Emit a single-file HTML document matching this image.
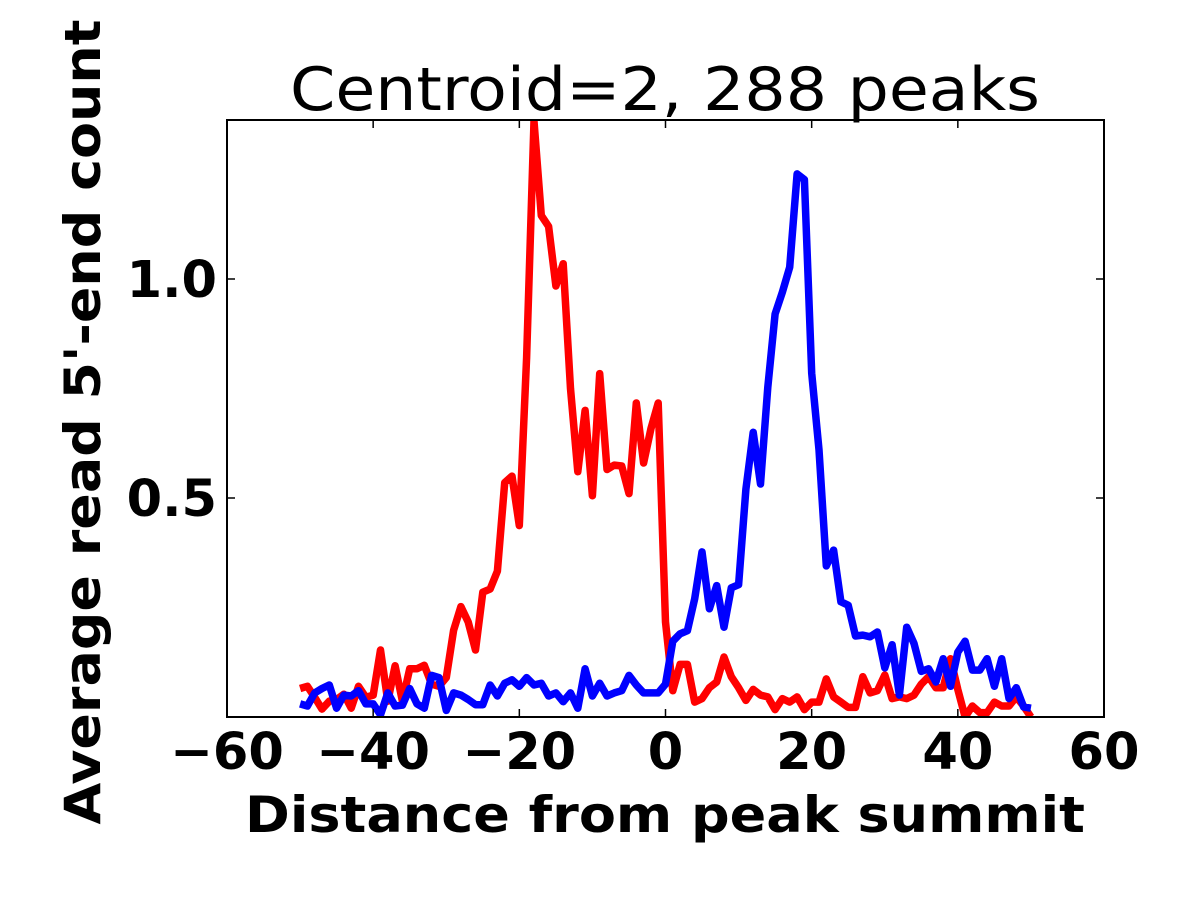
<!DOCTYPE html>
<html><head><meta charset="utf-8"><style>
html,body{margin:0;padding:0;background:#fff;}
svg{display:block;font-family:"DejaVu Sans","Liberation Sans",sans-serif;}
</style></head><body>
<svg id="chart" width="1200" height="900" viewBox="0 0 1200 900">
<defs><clipPath id="plotclip"><rect x="227" y="120" width="877" height="597"/></clipPath></defs>
<rect x="0" y="0" width="1200" height="900" fill="#fff"/>
<text x="665" y="110" font-size="60" text-anchor="middle" textLength="750" lengthAdjust="spacingAndGlyphs">Centroid=2, 288 peaks</text>
<g id="series" clip-path="url(#plotclip)"></g>
<rect x="227" y="120" width="877" height="597" fill="none" stroke="#000" stroke-width="2"/>
<g id="ticks"></g>
<text x="665" y="832" font-size="50" font-weight="bold" text-anchor="middle" textLength="840" lengthAdjust="spacingAndGlyphs">Distance from peak summit</text>
<text transform="translate(100,422) rotate(-90)" font-size="50" font-weight="bold" text-anchor="middle" textLength="805" lengthAdjust="spacingAndGlyphs">Average read 5'-end count</text>
</svg>
<script>
const positions = [];
for (let i = -50; i <= 50; i++) positions.push(i);
const redValues = [0.065,0.07,0.045,0.018,0.036,0.04,0.052,0.02,0.07,0.045,0.05,0.153,0.036,0.117,0.036,0.11,0.11,0.118,0.075,0.07,0.09,0.198,0.252,0.217,0.153,0.285,0.292,0.333,0.535,0.55,0.437,0.82,1.36,1.145,1.12,0.984,1.035,0.75,0.56,0.70,0.505,0.784,0.565,0.575,0.573,0.51,0.717,0.58,0.658,0.717,0.217,
0.06,0.12,0.12,0.034,0.042,0.067,0.08,0.137,0.092,0.067,0.038,0.063,0.05,0.046,0.017,0.042,0.034,0.046,0.017,0.034,0.034,0.087,0.046,0.034,0.022,0.022,0.092,0.055,0.06,0.096,0.042,0.046,0.042,0.05,0.075,0.092,0.067,0.067,0.133,0.063,0.0,0.025,0.01,0.01,0.034,0.025,0.025,0.046,0.025,0.0];
const blueValues = [0.03,0.025,0.055,0.065,0.073,0.02,0.05,0.048,0.06,0.03,0.03,0.005,0.055,0.025,0.027,0.065,0.03,0.02,0.095,0.09,0.015,0.055,0.05,0.04,0.028,0.028,0.073,0.048,0.077,0.085,0.07,0.09,0.073,0.077,0.048,0.055,0.035,0.055,0.02,0.11,0.048,0.077,0.048,0.055,0.06,0.095,0.073,0.055,0.055,0.055,0.075,
0.173,0.19,0.197,0.27,0.377,0.247,0.3,0.205,0.295,0.302,0.52,0.65,0.532,0.753,0.92,0.97,1.027,1.24,1.227,0.785,0.61,0.345,0.381,0.263,0.255,0.185,0.187,0.183,0.194,0.112,0.165,0.05,0.205,0.168,0.104,0.11,0.08,0.133,0.07,0.148,0.173,0.107,0.107,0.133,0.07,0.133,0.042,0.067,0.023,0.02];
const xTicks = [-60,-40,-20,0,20,40,60];
const xTickLabels = ["\u221260","\u221240","\u221220","0","20","40","60"];
const yTicks = [0.5,1.0];
const yTickLabels = ["0.5","1.0"];

const X0=227,X1=1104,Y0=717,Y1=120,XMIN=-60,XMAX=60,YMIN=0,YMAX=1.363;
function sx(v){return X0+(v-XMIN)/(XMAX-XMIN)*(X1-X0);}
function sy(v){return Y0-(v-YMIN)/(YMAX-YMIN)*(Y0-Y1);}
const NS="http://www.w3.org/2000/svg";
const series=document.getElementById('series');
function drawLine(vals,color,name){
  const p=document.createElementNS(NS,'polyline');
  p.setAttribute('points',vals.map((v,i)=>sx(positions[i]).toFixed(1)+','+sy(v).toFixed(1)).join(' '));
  p.setAttribute('fill','none');p.setAttribute('stroke',color);p.setAttribute('stroke-width','7.5');
  p.setAttribute('stroke-linejoin','round');
  
  
  series.appendChild(p);
}
drawLine(redValues,'#ff0000','red-series-line');
drawLine(blueValues,'#0000ff','blue-series-line');

const ticks=document.getElementById('ticks');
function seg(x1,y1,x2,y2){
  const l=document.createElementNS(NS,'line');
  l.setAttribute('x1',x1);l.setAttribute('y1',y1);l.setAttribute('x2',x2);l.setAttribute('y2',y2);
  l.setAttribute('stroke','#000');l.setAttribute('stroke-width','1.5');
  
  
  ticks.appendChild(l);
}
xTicks.forEach((v,i)=>{
  const x=sx(v);
  seg(x,Y0,x,Y0-8);seg(x,Y1,x,Y1+8);
  const t=document.createElementNS(NS,'text');
  t.setAttribute('x',x);t.setAttribute('y',769);t.setAttribute('font-size','51');
  t.setAttribute('font-weight','bold');t.setAttribute('text-anchor','middle');
  t.textContent=xTickLabels[i];
  
  
  ticks.appendChild(t);
});
yTicks.forEach((v,i)=>{
  const y=sy(v);
  seg(X0,y,X0+8,y);seg(X1,y,X1-8,y);
  const t=document.createElementNS(NS,'text');
  t.setAttribute('x',217);t.setAttribute('y',y+18);t.setAttribute('font-size','51');
  t.setAttribute('font-weight','bold');t.setAttribute('text-anchor','end');
  t.textContent=yTickLabels[i];
  
  
  ticks.appendChild(t);
});
</script>
</body></html>
